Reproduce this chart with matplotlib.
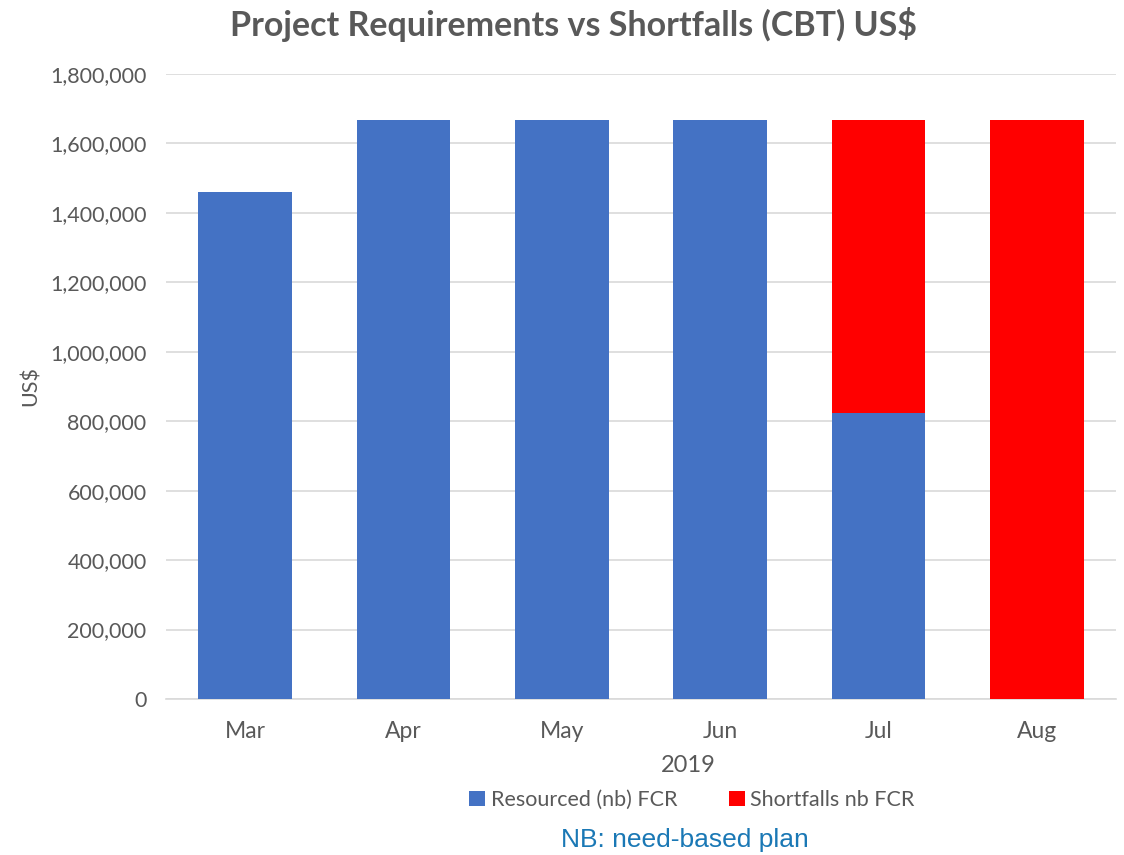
import matplotlib
matplotlib.use("Agg")
import matplotlib.pyplot as plt
from matplotlib.ticker import FuncFormatter, MultipleLocator
import numpy as np

months = ["Mar", "Apr", "May", "Jun", "Jul", "Aug"]
resourced = [1460000, 1668000, 1668000, 1668000, 824000, 0]
shortfalls = [0, 0, 0, 0, 844000, 1668000]

FONT = ["Lato", "DejaVu Sans"]
GREY = "#595959"

fig = plt.figure(figsize=(11.24, 8.55), dpi=100)
ax = fig.add_axes([166/1124, 1-699/855, (1116-166)/1124, (699-74)/855])

x = np.arange(len(months))
w = 0.59
ax.bar(x, resourced, width=w, color="#4472C4", label="Resourced (nb) FCR", zorder=3)
ax.bar(x, shortfalls, width=w, bottom=resourced, color="#FF0000", label="Shortfalls nb FCR", zorder=3)

ax.set_xlim(-0.5, len(months) - 0.5)
ax.set_ylim(0, 1800000)
ax.yaxis.set_major_locator(MultipleLocator(200000))
ax.yaxis.set_major_formatter(FuncFormatter(lambda v, p: f"{int(v):,}"))
ax.set_xticks(x)
ax.set_xticklabels(months)
ax.grid(axis="y", color="#D9D9D9", linewidth=1.2, zorder=0)
for s in ["top", "right", "left"]:
    ax.spines[s].set_visible(False)
ax.spines["bottom"].set_color("#D9D9D9")
ax.spines["bottom"].set_linewidth(1.2)
ax.tick_params(axis="both", length=0, labelcolor=GREY)
ax.tick_params(axis="x", pad=16, labelsize=16.5)
ax.tick_params(axis="y", pad=14, labelsize=15.5)
for lab in ax.get_xticklabels() + ax.get_yticklabels():
    lab.set_family(FONT)

ax.set_ylabel("US$", fontsize=15.5, color=GREY, family=FONT)
ax.yaxis.set_label_coords((41-166)/950, 0.5)
ax.set_xlabel("2019", fontsize=17, color=GREY, family=FONT)
ax.xaxis.set_label_coords((688-166)/950, -(755-699)/625)

fig.text(574/1124, 1-25/855, "Project Requirements vs Shortfalls (CBT) US$",
         ha="center", va="center", fontsize=24.5, fontweight="bold", color=GREY, family=FONT)

leg = fig.legend(loc="center", bbox_to_anchor=(692/1124, 1-800/855), ncol=2, frameon=False,
                 handlelength=0.75, handleheight=0.75, handletextpad=0.25,
                 columnspacing=2.4, prop={"family": FONT, "size": 15.5})
for t in leg.get_texts():
    t.set_color(GREY)

fig.text(685/1124, 1-840/855, "NB: need-based plan", ha="center", va="center",
         fontsize=19, color="#1A78B5", family=["Liberation Sans", "DejaVu Sans"])

fig.savefig("out.png", dpi=100)
